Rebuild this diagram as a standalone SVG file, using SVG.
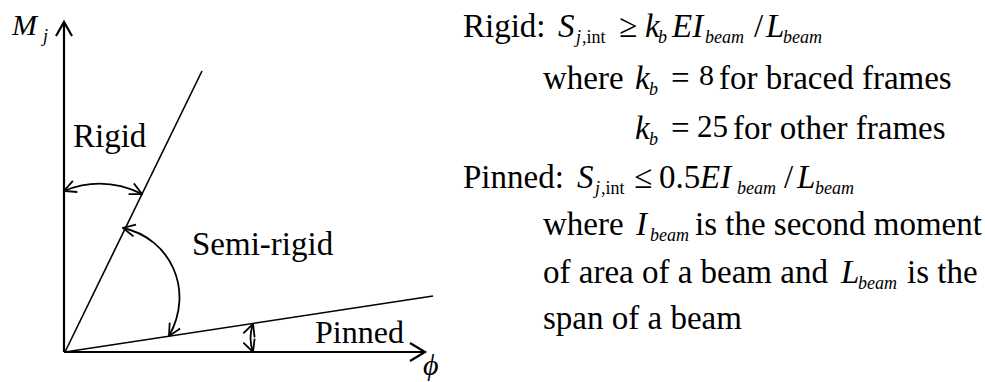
<svg xmlns="http://www.w3.org/2000/svg" width="985" height="382" viewBox="0 0 985 382">
<style>
text{font-family:"Liberation Serif","DejaVu Serif",serif;fill:#000}
.t{font-size:33px}
.i{font-style:italic}
.s{font-size:18px}
.ax{stroke:#000;stroke-width:2.2;fill:none}
.ln{stroke:#000;stroke-width:1.6;fill:none}
.arc{stroke:#000;stroke-width:1.8;fill:none;marker-start:url(#ah);marker-end:url(#ah)}
</style>
<defs>
<marker id="ah" viewBox="0 0 14 14" refX="13" refY="7" markerWidth="14" markerHeight="14" markerUnits="userSpaceOnUse" orient="auto-start-reverse">
<path d="M1,1 L13,7 L1,13" fill="none" stroke="#000" stroke-width="1.8"/>
</marker>
</defs>
<rect width="985" height="382" fill="#fff"/>
<g id="connectors">
<path class="ax" d="M64,352 L64,23"/>
<path class="ax" d="M56,36 L64,22 L72,36"/>
<path class="ax" d="M64,352 L424,352"/>
<path class="ax" d="M410,343 L425,352 L410,361"/>
<path class="ln" d="M65,352 L202,71"/>
<path class="ln" d="M65,352 L433,296"/>
<path class="arc" d="M64,191 Q103,175 142,194"/>
<path class="arc" d="M123,228 C170,238 195,290 169,336"/>
<path class="arc" d="M253,324 Q248,338 253,352"/>
</g>
<g font-family="Liberation Serif, DejaVu Serif, serif">
<g id="axis-labels">
<text class="i" x="12" y="35" style="font-size:30px">M</text>
<text class="i s" x="43" y="42">j</text>
<text class="i" x="423" y="375" style="font-size:30px">ϕ</text>
</g>
<g id="label-rigid"><text class="t" x="73" y="147">Rigid</text></g>
<g id="label-semirigid"><text class="t" x="192" y="255">Semi-rigid</text></g>
<g id="label-pinned"><text x="315" y="343" style="font-size:32px">Pinned</text></g>
<g id="definitions">
<text class="t" x="463" y="37">Rigid:</text>
<text class="t i" x="558" y="37">S</text>
<text class="s i" x="576" y="43">j</text>
<text class="s" x="582" y="43">,int</text>
<text class="t" x="619" y="37">≥</text>
<text class="t i" x="645" y="37">k</text>
<text class="s i" x="658" y="43">b</text>
<text class="t i" x="672" y="37">EI</text>
<text class="s i" x="705" y="43">beam</text>
<text class="t" x="754" y="37">/</text>
<text class="t i" x="766" y="37">L</text>
<text class="s i" x="783" y="43">beam</text>

<text class="t" x="543" y="89">where</text>
<text class="t i" x="635" y="89">k</text>
<text class="s i" x="649" y="95">b</text>
<text class="t" x="671" y="89">=</text>
<text x="699" y="85" style="font-size:30px">8</text>
<text class="t" x="719" y="89">for braced frames</text>

<text class="t i" x="635" y="139">k</text>
<text class="s i" x="649" y="145">b</text>
<text class="t" x="671" y="139">=</text>
<text x="697" y="137" style="font-size:31px">25</text>
<text class="t" x="733" y="139">for other frames</text>

<text class="t" x="463" y="188">Pinned:</text>
<text class="t i" x="577" y="188">S</text>
<text class="s i" x="595" y="194">j</text>
<text class="s" x="601" y="194">,int</text>
<text class="t" x="634" y="188">≤</text>
<text class="t" x="659" y="188">0.5</text>
<text class="t i" x="700" y="188">EI</text>
<text class="s i" x="737" y="194">beam</text>
<text class="t" x="784" y="188">/</text>
<text class="t i" x="797" y="188">L</text>
<text class="s i" x="815" y="194">beam</text>

<text class="t" x="543" y="235">where</text>
<text class="t i" x="636" y="235">I</text>
<text class="s i" x="650" y="241">beam</text>
<text class="t" x="695" y="235">is the second moment</text>

<text class="t" x="543" y="283">of area of a beam and</text>
<text class="t i" x="841" y="283">L</text>
<text class="s i" x="858" y="289">beam</text>
<text class="t" x="907" y="283">is the</text>

<text class="t" x="543" y="329">span of a beam</text>
</g>
</g>
</svg>
